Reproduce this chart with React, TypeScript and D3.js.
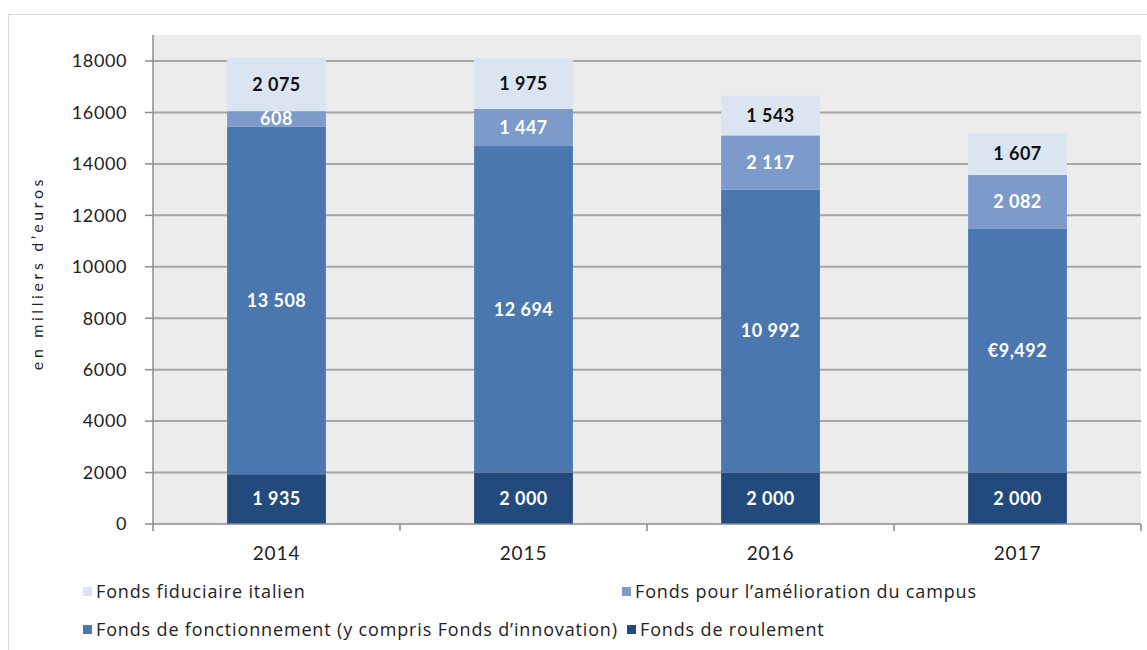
import React from "react";
import * as d3 from "d3";

const years = ["2014", "2015", "2016", "2017"];
const roulement = [1935, 2000, 2000, 2000];
const fonctionnement = [13508, 12694, 10992, 9492];
const campus = [608, 1447, 2117, 2082];
const fiduciaire = [2075, 1975, 1543, 1607];
const fonctionnementLabels = ["13 508", "12 694", "10 992", "€9,492"];
const yTicks = [0, 2000, 4000, 6000, 8000, 10000, 12000, 14000, 16000, 18000];

const seriesNames = [
  "Fonds de roulement",
  "Fonds de fonctionnement (y compris Fonds d\u2019innovation)",
  "Fonds pour l\u2019amélioration du campus",
  "Fonds fiduciaire italien",
];
const seriesColors = ["#234a7c", "#4a77b0", "#7c9bcb", "#dbe5f1"];
const labelColors = ["#ffffff", "#ffffff", "#ffffff", "#111111"];

const fmt = (v: number) => {
  const s = String(v);
  return s.length > 3 ? s.slice(0, s.length - 3) + " " + s.slice(-3) : s;
};

export default function App() {
  const W = 1147, H = 650;
  const x0 = 153, x1 = 1141;
  const plotTop = 35;
  const x = d3.scaleBand<string>().domain(years).range([x0, x1]).paddingInner(0.6).paddingOuter(0.3);
  const band = d3.scaleBand<string>().domain(years).range([x0, x1]);
  const y = d3.scaleLinear().domain([0, 18000]).range([524, 61]);

  const rows = years.map((yr, i) => ({
    year: yr,
    s0: roulement[i], s1: fonctionnement[i], s2: campus[i], s3: fiduciaire[i],
  }));
  const stack = d3.stack<any>().keys(["s0", "s1", "s2", "s3"])(rows);
  const labelText = (k: number, i: number) => {
    if (k === 1) return fonctionnementLabels[i];
    const arr = [roulement, fonctionnement, campus, fiduciaire][k];
    return fmt(arr[i]);
  };

  const font = "Lato, 'Open Sans', sans-serif";
  const legendFont = "'Open Sans', sans-serif";

  const legend = [
    { k: 3, x: 83, y: 592 },
    { k: 2, x: 622, y: 592 },
    { k: 1, x: 83, y: 630 },
    { k: 0, x: 627, y: 630 },
  ];

  return (
    <svg width={W} height={H} style={{ position: "absolute", left: 0, top: 0, background: "#fff" }} fontFamily={font}>
      <rect x={8.5} y={14.5} width={W} height={H} fill="#fff" stroke="#d9d9d9" strokeWidth={1} />
      <rect x={x0} y={plotTop} width={x1 - x0} height={y(0) - plotTop} fill="#ececec" />
      {yTicks.map((t) => (
        <g key={t}>
          {t > 0 && <line x1={x0} x2={x1} y1={y(t)} y2={y(t)} stroke="#a6a6a6" strokeWidth={2} />}
          <line x1={x0 - 8} x2={x0} y1={y(t)} y2={y(t)} stroke="#8c8c8c" strokeWidth={1.5} />
          <text x={127} y={y(t)} dy="0.35em" textAnchor="end" fontSize={18} fill="#222" letterSpacing={0.6}>
            {t}
          </text>
        </g>
      ))}
      {stack.map((layer, k) =>
        layer.map((d, i) => (
          <rect key={`${k}-${i}`} x={x(years[i])} width={x.bandwidth()} y={y(d[1])} height={y(d[0]) - y(d[1])} fill={seriesColors[k]} />
        ))
      )}
      <line x1={x0} x2={x0} y1={plotTop} y2={y(0)} stroke="#8c8c8c" strokeWidth={1.5} />
      <line x1={x0} x2={x1} y1={y(0)} y2={y(0)} stroke="#8c8c8c" strokeWidth={1.5} />
      {years.map((yr, i) => (
        <line key={yr} x1={band(yr)! + band.bandwidth()} x2={band(yr)! + band.bandwidth()} y1={y(0)} y2={y(0) + 7} stroke="#8c8c8c" strokeWidth={1.5} />
      ))}
      <line x1={x0} x2={x0} y1={y(0)} y2={y(0) + 7} stroke="#8c8c8c" strokeWidth={1.5} />
      {stack.map((layer, k) =>
        layer.map((d, i) => (
          <text key={`l${k}-${i}`} x={x(years[i])! + x.bandwidth() / 2} y={(y(d[0]) + y(d[1])) / 2} dy="0.35em"
            textAnchor="middle" fontSize={18} fontWeight={700} fill={labelColors[k]} letterSpacing={0.5}>
            {labelText(k, i)}
          </text>
        ))
      )}
      {years.map((yr) => (
        <text key={yr} x={band(yr)! + band.bandwidth() / 2} y={553} dy="0.35em" textAnchor="middle" fontSize={19} fill="#222" letterSpacing={0.9}>
          {yr}
        </text>
      ))}
      <text transform={`translate(37,273) rotate(-90)`} textAnchor="middle" dy="0.35em" fontSize={16} fill="#222" letterSpacing={3.6}>
        en milliers d’euros
      </text>
      {legend.map((l) => (
        <g key={l.k}>
          <rect x={l.x} y={l.y - 5} width={9} height={9} fill={seriesColors[l.k]} />
          <text x={l.x + 13} y={l.y} dy="0.35em" fontFamily={legendFont} fontSize={18} fill="#222" letterSpacing={0.85}>
            {seriesNames[l.k]}
          </text>
        </g>
      ))}
    </svg>
  );
}
